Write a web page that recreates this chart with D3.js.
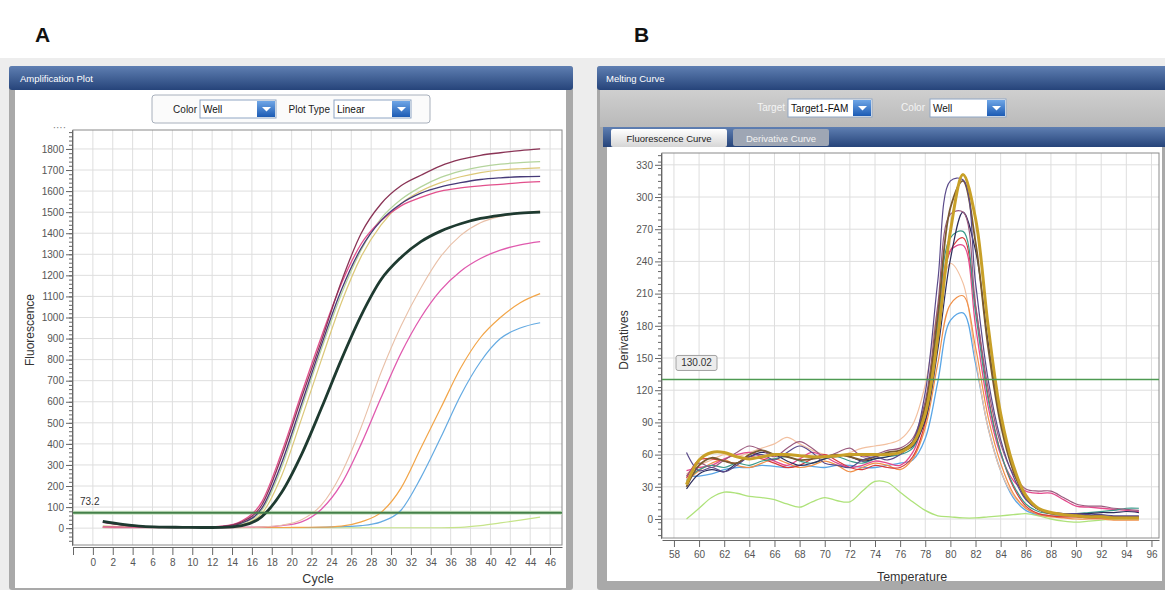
<!DOCTYPE html>
<html>
<head>
<meta charset="utf-8">
<script src="https://cdn.jsdelivr.net/npm/d3@7"></script>
<style>
body { margin: 0; background: #fff; }
svg { display: block; font-family: "Liberation Sans", Arial, sans-serif; }
</style>
</head>
<body>
<svg id="chart" width="1165" height="590"></svg>
<script>
// ---- panel A: amplification data (cycle -> fluorescence) ----
var cycles = [1, 3, 5, 7, 9, 11, 13, 15, 17, 19, 21, 23, 25, 27, 29, 31, 33, 35, 37, 39, 41, 43, 45];
var ampMaroon = [28, 15, 8, 5, 4, 4, 8, 30, 110, 340, 620, 890, 1170, 1400, 1540, 1625, 1675, 1720, 1750, 1770, 1782, 1792, 1800];
var ampPink = [6, 5, 4, 4, 4, 4, 9, 35, 125, 360, 640, 910, 1160, 1350, 1460, 1530, 1570, 1600, 1615, 1625, 1632, 1640, 1645];
var ampNavy = [30, 16, 8, 5, 4, 4, 7, 25, 95, 310, 590, 870, 1130, 1330, 1460, 1540, 1590, 1620, 1640, 1655, 1663, 1668, 1670];
var ampLightGreen = [8, 6, 5, 4, 4, 4, 6, 22, 85, 290, 570, 850, 1110, 1320, 1470, 1560, 1620, 1665, 1695, 1715, 1728, 1735, 1740];
var ampTan = [10, 7, 5, 4, 4, 4, 5, 18, 70, 250, 520, 800, 1070, 1290, 1440, 1540, 1600, 1640, 1668, 1688, 1700, 1706, 1710];
var ampBlack = [32, 18, 8, 5, 4, 3, 4, 12, 55, 170, 350, 570, 800, 1010, 1180, 1285, 1360, 1410, 1445, 1470, 1485, 1495, 1500];
var ampPeach = [4, 3, 3, 3, 3, 3, 3, 4, 6, 14, 40, 110, 260, 480, 740, 960, 1140, 1290, 1390, 1450, 1480, 1495, 1505];
var ampMagenta = [4, 3, 3, 3, 3, 3, 3, 4, 6, 12, 30, 90, 210, 400, 620, 830, 1000, 1130, 1220, 1280, 1320, 1345, 1360];
var ampOrange = [3, 3, 3, 3, 3, 3, 3, 3, 3, 3, 4, 5, 10, 30, 75, 190, 380, 570, 760, 905, 1000, 1070, 1113];
var ampBlue = [3, 3, 3, 3, 3, 3, 3, 3, 3, 3, 3, 4, 7, 12, 30, 85, 240, 430, 630, 790, 900, 950, 975];
var ampYellowGreen = [2, 2, 2, 2, 2, 2, 2, 2, 2, 2, 2, 2, 2, 2, 2, 2, 2, 2, 4, 12, 25, 38, 52];
var ampThreshold = 73.2;
var ampYTicks = [0, 100, 200, 300, 400, 500, 600, 700, 800, 900, 1000, 1100, 1200, 1300, 1400, 1500, 1600, 1700, 1800];
var ampXTicks = [-2, 0, 2, 4, 6, 8, 10, 12, 14, 16, 18, 20, 22, 24, 26, 28, 30, 32, 34, 36, 38, 40, 42, 44, 46];

// ---- panel B: melt derivative data (temperature -> derivative) ----
var temps = [59, 60, 61, 62, 63, 64, 65, 66, 67, 68, 69, 70, 71, 72, 73, 74, 75, 76, 77, 78, 79, 80, 81, 82, 83, 84, 85, 86, 87, 88, 89, 90, 91, 92, 93, 94, 95];
var meltPurple = [62, 45, 48, 44, 50, 58, 60, 55, 62, 68, 62, 52, 50, 48, 55, 58, 55, 60, 72, 118, 222, 315, 316, 220, 130, 74, 40, 18, 9, 6, 5, 5, 4, 4, 3, 3, 3];
var meltGold = [32, 55, 62, 62, 58, 56, 58, 60, 60, 59, 58, 58, 59, 60, 60, 60, 60, 62, 70, 98, 170, 268, 321, 280, 180, 98, 50, 22, 10, 6, 4, 3, 2, 2, 1, 1, 1];
var meltBrown = [30, 50, 57, 54, 52, 60, 64, 60, 58, 55, 56, 58, 60, 58, 55, 58, 62, 64, 72, 105, 190, 290, 315, 258, 160, 88, 45, 20, 9, 5, 4, 4, 3, 3, 2, 2, 2];
var meltMauve = [40, 52, 48, 55, 62, 68, 64, 58, 66, 72, 66, 58, 62, 66, 58, 60, 64, 66, 75, 110, 200, 284, 286, 200, 122, 70, 42, 28, 26, 26, 20, 14, 12, 12, 10, 9, 8];
var meltNavy = [28, 42, 46, 44, 52, 58, 62, 60, 54, 50, 52, 56, 60, 58, 54, 56, 58, 62, 68, 92, 158, 242, 286, 250, 165, 92, 46, 20, 9, 6, 5, 5, 5, 6, 6, 7, 6];
var meltTeal = [36, 46, 50, 48, 52, 50, 54, 56, 58, 54, 52, 56, 58, 54, 52, 56, 58, 60, 66, 100, 182, 262, 268, 192, 112, 62, 32, 14, 7, 5, 5, 5, 6, 7, 8, 10, 10];
var meltPink = [45, 48, 50, 56, 60, 62, 58, 54, 50, 56, 62, 58, 52, 48, 50, 54, 52, 50, 62, 98, 178, 250, 255, 180, 105, 60, 36, 26, 24, 24, 18, 12, 11, 10, 9, 8, 7];
var meltRed = [38, 55, 56, 54, 52, 58, 56, 52, 48, 50, 56, 60, 54, 48, 46, 50, 48, 48, 58, 90, 165, 250, 262, 198, 115, 62, 30, 12, 5, 3, 2, 2, 1, 1, 1, 1, 1];
var meltOrange = [35, 45, 52, 55, 50, 48, 52, 56, 52, 48, 50, 54, 50, 44, 48, 52, 50, 46, 56, 85, 145, 200, 208, 160, 95, 52, 24, 10, 4, 2, 1, 0, 0, 0, -1, -1, -1];
var meltPeach = [42, 50, 55, 60, 58, 62, 66, 70, 76, 70, 64, 60, 58, 62, 66, 68, 70, 74, 88, 125, 195, 238, 220, 150, 85, 45, 22, 10, 5, 3, 2, 2, 1, 1, 1, 0, 0];
var meltBlue = [40, 40, 42, 46, 48, 48, 50, 49, 48, 50, 49, 48, 50, 50, 48, 48, 50, 52, 55, 75, 128, 185, 192, 145, 85, 45, 20, 8, 4, 3, 3, 3, 3, 2, 2, 2, 2];
var meltGreen = [0, 10, 20, 25, 24, 21, 20, 18, 14, 11, 16, 20, 17, 16, 26, 35, 34, 25, 16, 8, 3, 2, 1, 1, 2, 3, 4, 5, 3, 0, -2, -3, -2, -1, 0, 0, 0];
var meltThreshold = 130.02;
var meltYTicks = [0, 30, 60, 90, 120, 150, 180, 210, 240, 270, 300, 330];
var meltXTicks = [58, 60, 62, 64, 66, 68, 70, 72, 74, 76, 78, 80, 82, 84, 86, 88, 90, 92, 94, 96];

var ampSeries = [
    { values: ampYellowGreen, color: "#c6e48a", width: 1.2 },
    { values: ampBlue, color: "#64aae2", width: 1.2 },
    { values: ampOrange, color: "#f2a548", width: 1.2 },
    { values: ampMagenta, color: "#e05aae", width: 1.3 },
    { values: ampPeach, color: "#e9c0a8", width: 1.1 },
    { values: ampTan, color: "#dcc878", width: 1.2 },
    { values: ampLightGreen, color: "#b4d49c", width: 1.2 },
    { values: ampPink, color: "#e2508c", width: 1.3 },
    { values: ampNavy, color: "#463a78", width: 1.3 },
    { values: ampMaroon, color: "#8a3456", width: 1.3 },
    { values: ampBlack, color: "#1e3a30", width: 2.8 }
];
var meltSeries = [
    { values: meltGreen, color: "#aee27a", width: 1.3 },
    { values: meltBlue, color: "#5aa6e6", width: 1.3 },
    { values: meltPeach, color: "#f2c0a0", width: 1.2 },
    { values: meltOrange, color: "#f09048", width: 1.2 },
    { values: meltRed, color: "#d83a3a", width: 1.2 },
    { values: meltPink, color: "#e44a8c", width: 1.3 },
    { values: meltTeal, color: "#3a9a8a", width: 1.2 },
    { values: meltNavy, color: "#2c2c5c", width: 1.2 },
    { values: meltMauve, color: "#9a5a7e", width: 1.2 },
    { values: meltBrown, color: "#7a5a30", width: 1.8 },
    { values: meltPurple, color: "#5a4a8a", width: 1.2 },
    { values: meltGold, color: "#c8a028", width: 3 }
];

var svg = d3.select("#chart");
var defs = svg.append("defs");

var bar = defs.append("linearGradient").attr("id", "titleBar").attr("x1", 0).attr("y1", 0).attr("x2", 0).attr("y2", 1);
bar.append("stop").attr("offset", "0%").attr("stop-color", "#5f7fb2");
bar.append("stop").attr("offset", "100%").attr("stop-color", "#26447a");
var btn = defs.append("linearGradient").attr("id", "btnBlue").attr("x1", 0).attr("y1", 0).attr("x2", 0).attr("y2", 1);
btn.append("stop").attr("offset", "0%").attr("stop-color", "#6fa6e6");
btn.append("stop").attr("offset", "100%").attr("stop-color", "#1c5bb4");
var grey = defs.append("linearGradient").attr("id", "greyBand").attr("x1", 0).attr("y1", 0).attr("x2", 0).attr("y2", 1);
grey.append("stop").attr("offset", "0%").attr("stop-color", "#cfcfcf");
grey.append("stop").attr("offset", "100%").attr("stop-color", "#b9b9b9");
var tabOn = defs.append("linearGradient").attr("id", "tabOn").attr("x1", 0).attr("y1", 0).attr("x2", 0).attr("y2", 1);
tabOn.append("stop").attr("offset", "0%").attr("stop-color", "#ffffff");
tabOn.append("stop").attr("offset", "100%").attr("stop-color", "#d6d6d6");

defs.append("clipPath").attr("id", "clipA").append("rect")
    .attr("x", 73).attr("y", 130).attr("width", 489).attr("height", 415);
defs.append("clipPath").attr("id", "clipB").append("rect")
    .attr("x", 662).attr("y", 153).attr("width", 497).attr("height", 385);

// background behind the two windows
svg.append("rect").attr("x", 0).attr("y", 58).attr("width", 1165).attr("height", 532).attr("fill", "#ededed");

svg.append("text").attr("x", 35).attr("y", 42).attr("font-size", 21).attr("font-weight", "bold").attr("fill", "#111").text("A");
svg.append("text").attr("x", 634).attr("y", 42).attr("font-size", 21).attr("font-weight", "bold").attr("fill", "#111").text("B");

function dropdown(g, x, y, w, label) {
    g.append("rect").attr("x", x).attr("y", y).attr("width", w).attr("height", 18)
        .attr("fill", "#fff").attr("stroke", "#8fa6c4");
    g.append("rect").attr("x", x + w - 19).attr("y", y + 1).attr("width", 18).attr("height", 16)
        .attr("fill", "url(#btnBlue)");
    g.append("path").attr("d", "M" + (x + w - 14) + "," + (y + 7) + "l4.5,4.5l4.5,-4.5z").attr("fill", "#fff");
    g.append("text").attr("x", x + 3).attr("y", y + 13).attr("font-size", 10).attr("fill", "#111").text(label);
}

// ================= panel A =================
var gA = svg.append("g");
gA.append("rect").attr("x", 9).attr("y", 66).attr("width", 564).attr("height", 524).attr("fill", "#a9a9a9").attr("rx", 3);
gA.append("rect").attr("x", 9).attr("y", 66).attr("width", 564).attr("height", 24).attr("fill", "url(#titleBar)").attr("rx", 3);
gA.append("rect").attr("x", 15).attr("y", 90).attr("width", 551).attr("height", 498).attr("fill", "#fff");
gA.append("text").attr("x", 20).attr("y", 82).attr("font-size", 9.5).attr("fill", "#fff").text("Amplification Plot");

gA.append("rect").attr("x", 152).attr("y", 95).attr("width", 278).attr("height", 28).attr("rx", 3)
    .attr("fill", "#fbfbfb").attr("stroke", "#a8b0bc");
gA.append("text").attr("x", 197).attr("y", 113).attr("font-size", 10).attr("text-anchor", "end").attr("fill", "#222").text("Color");
dropdown(gA, 200, 100, 76, "Well");
gA.append("text").attr("x", 330).attr("y", 113).attr("font-size", 10).attr("text-anchor", "end").attr("fill", "#222").text("Plot Type");
dropdown(gA, 334, 100, 77, "Linear");

var xA = d3.scaleLinear().domain([-2, 47.2]).range([73, 562]);
var yA = d3.scaleLinear().domain([-80, 1890]).range([545, 130]);

var gridA = gA.append("g");
gridA.selectAll(".vx").data(ampXTicks.filter(function (d) { return d > -2; })).enter().append("line")
    .attr("x1", function (d) { return xA(d); }).attr("x2", function (d) { return xA(d); })
    .attr("y1", 130).attr("y2", 545).attr("stroke", "#dedede");
gridA.selectAll(".hy").data(ampYTicks).enter().append("line")
    .attr("x1", 73).attr("x2", 562)
    .attr("y1", function (d) { return yA(d); }).attr("y2", function (d) { return yA(d); })
    .attr("stroke", "#dedede");
gA.append("rect").attr("x", 73).attr("y", 130).attr("width", 489).attr("height", 415)
    .attr("fill", "none").attr("stroke", "#8a8a8a");

gA.append("g").attr("transform", "translate(72,0)")
    .call(d3.axisLeft(yA).tickValues(ampYTicks).tickSize(6).tickSizeOuter(0).tickPadding(2).tickFormat(d3.format("d")));
gA.append("g").attr("transform", "translate(72,0)")
    .call(d3.axisLeft(yA).tickValues(d3.range(-60, 1890, 20)).tickSize(3).tickFormat("").tickSizeOuter(0));
gA.append("g").attr("transform", "translate(0,547)")
    .call(d3.axisBottom(xA).tickValues(ampXTicks).tickSize(8).tickSizeOuter(0).tickPadding(4)
        .tickFormat(function (d) { return d < 0 ? "" : d; }));
gA.append("text").attr("x", 66).attr("y", 131).attr("font-size", 10).attr("text-anchor", "end").attr("fill", "#777").text("····");

var lineA = d3.line().x(function (d, i) { return xA(cycles[i]); }).y(function (d) { return yA(d); }).curve(d3.curveMonotoneX);
var plotA = gA.append("g").attr("clip-path", "url(#clipA)");
plotA.append("line").attr("x1", 73).attr("x2", 562).attr("y1", yA(ampThreshold)).attr("y2", yA(ampThreshold))
    .attr("stroke", "#cfe6c8").attr("stroke-width", 4);
plotA.selectAll(".amp").data(ampSeries).enter().append("path")
    .attr("d", function (s) { return lineA(s.values); })
    .attr("fill", "none").attr("stroke", function (s) { return s.color; })
    .attr("stroke-width", function (s) { return s.width; });
plotA.append("line").attr("x1", 73).attr("x2", 562).attr("y1", yA(ampThreshold)).attr("y2", yA(ampThreshold))
    .attr("stroke", "#44804a").attr("stroke-width", 1.8);
gA.append("text").attr("x", 80).attr("y", yA(ampThreshold) - 8).attr("font-size", 10).attr("fill", "#333").text(ampThreshold);

gA.append("text").attr("transform", "translate(34,330) rotate(-90)").attr("text-anchor", "middle")
    .attr("font-size", 12).attr("fill", "#333").text("Fluorescence");
gA.append("text").attr("x", 318).attr("y", 583).attr("text-anchor", "middle")
    .attr("font-size", 12.5).attr("fill", "#333").text("Cycle");

// ================= panel B =================
var gB = svg.append("g");
gB.append("rect").attr("x", 597).attr("y", 66).attr("width", 572).attr("height", 524).attr("fill", "#a9a9a9").attr("rx", 3);
gB.append("rect").attr("x", 597).attr("y", 66).attr("width", 572).attr("height", 24).attr("fill", "url(#titleBar)").attr("rx", 3);
gB.append("rect").attr("x", 600).attr("y", 90).attr("width", 565).attr("height", 37).attr("fill", "url(#greyBand)");
gB.append("text").attr("x", 606).attr("y", 82).attr("font-size", 9.5).attr("fill", "#fff").text("Melting Curve");

gB.append("text").attr("x", 785).attr("y", 111).attr("font-size", 10).attr("text-anchor", "end").attr("fill", "#f4f4f4").text("Target");
dropdown(gB, 788, 99, 84, "Target1-FAM");
gB.append("text").attr("x", 925).attr("y", 111).attr("font-size", 10).attr("text-anchor", "end").attr("fill", "#f4f4f4").text("Color");
dropdown(gB, 930, 99, 76, "Well");

gB.append("rect").attr("x", 603).attr("y", 127).attr("width", 562).attr("height", 20).attr("fill", "url(#titleBar)");
gB.append("rect").attr("x", 611).attr("y", 129).attr("width", 116).attr("height", 18).attr("rx", 2).attr("fill", "url(#tabOn)");
gB.append("text").attr("x", 669).attr("y", 142).attr("text-anchor", "middle").attr("font-size", 9.5).attr("fill", "#222").text("Fluorescence Curve");
gB.append("rect").attr("x", 733).attr("y", 129).attr("width", 96).attr("height", 17).attr("rx", 2).attr("fill", "#9ea6b4");
gB.append("text").attr("x", 781).attr("y", 142).attr("text-anchor", "middle").attr("font-size", 9.5).attr("fill", "#f2f2f2").text("Derivative Curve");
gB.append("rect").attr("x", 607).attr("y", 147).attr("width", 555).attr("height", 434).attr("fill", "#fff");

var xB = d3.scaleLinear().domain([57.05, 96.6]).range([662, 1159]);
var yB = d3.scaleLinear().domain([-17.7, 341]).range([538, 153]);

var gridB = gB.append("g");
gridB.selectAll(".vx").data(meltXTicks).enter().append("line")
    .attr("x1", function (d) { return xB(d); }).attr("x2", function (d) { return xB(d); })
    .attr("y1", 153).attr("y2", 538).attr("stroke", "#dedede");
gridB.selectAll(".hy").data(meltYTicks).enter().append("line")
    .attr("x1", 662).attr("x2", 1159)
    .attr("y1", function (d) { return yB(d); }).attr("y2", function (d) { return yB(d); })
    .attr("stroke", "#dedede");
gB.append("rect").attr("x", 662).attr("y", 153).attr("width", 497).attr("height", 385)
    .attr("fill", "none").attr("stroke", "#8a8a8a");

gB.append("g").attr("transform", "translate(661,0)")
    .call(d3.axisLeft(yB).tickValues(meltYTicks).tickSize(6).tickSizeOuter(0).tickPadding(2));
gB.append("g").attr("transform", "translate(661,0)")
    .call(d3.axisLeft(yB).tickValues(d3.range(-15, 341, 6)).tickSize(3).tickFormat("").tickSizeOuter(0));
gB.append("g").attr("transform", "translate(0,540)")
    .call(d3.axisBottom(xB).tickValues(meltXTicks).tickSize(7).tickSizeOuter(0).tickPadding(4));

var lineB = d3.line().x(function (d, i) { return xB(temps[i]); }).y(function (d) { return yB(d); }).curve(d3.curveCatmullRom.alpha(0.5));
var plotB = gB.append("g").attr("clip-path", "url(#clipB)");
plotB.selectAll(".melt").data(meltSeries).enter().append("path")
    .attr("d", function (s) { return lineB(s.values); })
    .attr("fill", "none").attr("stroke", function (s) { return s.color; })
    .attr("stroke-width", function (s) { return s.width; });
plotB.append("line").attr("x1", 662).attr("x2", 1159).attr("y1", yB(meltThreshold)).attr("y2", yB(meltThreshold))
    .attr("stroke", "#4e9a52").attr("stroke-width", 1.5);
gB.append("rect").attr("x", 676).attr("y", yB(meltThreshold) - 24).attr("width", 41).attr("height", 15).attr("rx", 2)
    .attr("fill", "#ececec").attr("stroke", "#a0a0a0");
gB.append("text").attr("x", 696.5).attr("y", yB(meltThreshold) - 13).attr("text-anchor", "middle")
    .attr("font-size", 10).attr("fill", "#333").text(meltThreshold);

gB.append("text").attr("transform", "translate(628,340) rotate(-90)").attr("text-anchor", "middle")
    .attr("font-size", 12).attr("fill", "#333").text("Derivatives");
gB.append("text").attr("x", 912).attr("y", 581).attr("text-anchor", "middle")
    .attr("font-size", 12.5).attr("fill", "#333").text("Temperature");

// axis styling shared by both panels
svg.selectAll(".tick text").attr("font-size", 10).attr("fill", "#555").attr("font-family", "Liberation Sans, Arial, sans-serif");
svg.selectAll(".tick line").attr("stroke", "#666");
svg.selectAll(".domain").attr("stroke", "#666");
</script>
</body>
</html>
